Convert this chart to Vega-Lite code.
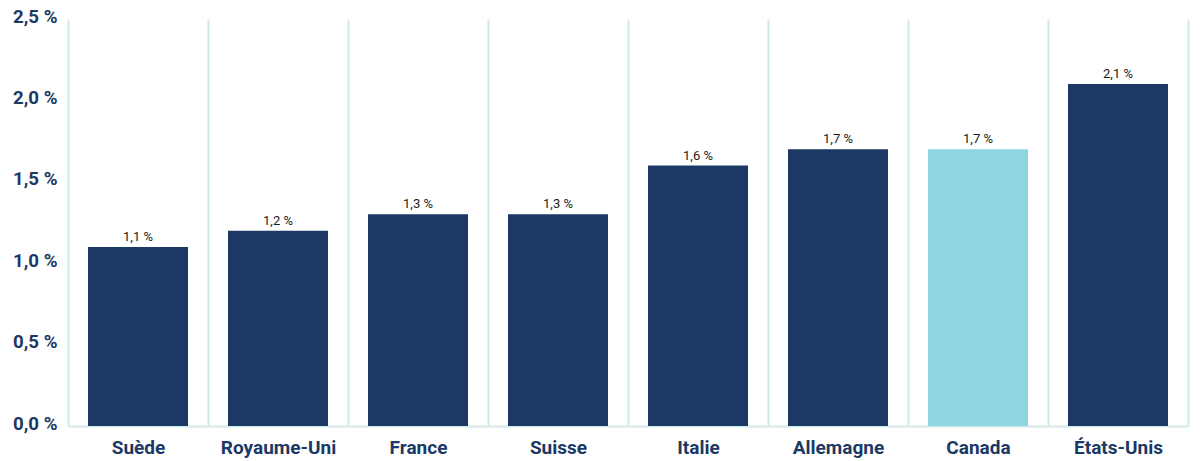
{
  "$schema": "https://vega.github.io/schema/vega-lite/v6.json",
  "width": 1120,
  "height": 407,
  "autosize": {"type": "none"},
  "padding": {"left": 68, "top": 19, "right": 12, "bottom": 35},
  "background": "white",
  "data": {
    "values": [
      {"pays": "Suède", "valeur": 1.1, "etiquette": "1,1 %", "groupe": "autre"},
      {"pays": "Royaume-Uni", "valeur": 1.2, "etiquette": "1,2 %", "groupe": "autre"},
      {"pays": "France", "valeur": 1.3, "etiquette": "1,3 %", "groupe": "autre"},
      {"pays": "Suisse", "valeur": 1.3, "etiquette": "1,3 %", "groupe": "autre"},
      {"pays": "Italie", "valeur": 1.6, "etiquette": "1,6 %", "groupe": "autre"},
      {"pays": "Allemagne", "valeur": 1.7, "etiquette": "1,7 %", "groupe": "autre"},
      {"pays": "Canada", "valeur": 1.7, "etiquette": "1,7 %", "groupe": "canada"},
      {"pays": "États-Unis", "valeur": 2.1, "etiquette": "2,1 %", "groupe": "autre"}
    ]
  },
  "encoding": {
    "x": {
      "field": "pays",
      "type": "nominal",
      "sort": null,
      "scale": {"paddingInner": 0, "paddingOuter": 0},
      "axis": {
        "title": null,
        "labelAngle": 0,
        "labelFont": "Roboto",
        "labelFontWeight": "bold",
        "labelFontSize": 19,
        "labelColor": "#1c3864",
        "labelPadding": 12,
        "ticks": false,
        "tickBand": "extent",
        "grid": true,
        "gridColor": "#d3ebe8",
        "gridWidth": 2,
        "domain": true,
        "domainColor": "#d3ebe8",
        "domainWidth": 2
      }
    },
    "y": {
      "field": "valeur",
      "type": "quantitative",
      "scale": {"domain": [0, 2.5], "nice": false},
      "axis": {
        "title": null,
        "values": [0, 0.5, 1, 1.5, 2, 2.5],
        "labelExpr": "replace(format(datum.value, '.1f'), '.', ',') + ' %'",
        "labelFont": "Roboto",
        "labelFontWeight": "bold",
        "labelFontSize": 18.7,
        "labelColor": "#1c3864",
        "labelPadding": 11,
        "labelOffset": -3,
        "ticks": false,
        "domain": false,
        "grid": false
      }
    }
  },
  "layer": [
    {
      "mark": {"type": "bar", "width": {"band": 0.7143}},
      "encoding": {
        "color": {
          "field": "groupe",
          "type": "nominal",
          "scale": {"domain": ["autre", "canada"], "range": ["#1c3864", "#8dd5e1"]},
          "legend": null
        }
      }
    },
    {
      "mark": {"type": "text", "baseline": "bottom", "dy": -3, "font": "Roboto", "fontSize": 13, "color": "#1a1a1a"},
      "encoding": {"text": {"field": "etiquette"}}
    }
  ],
  "config": {"view": {"stroke": null}}
}
